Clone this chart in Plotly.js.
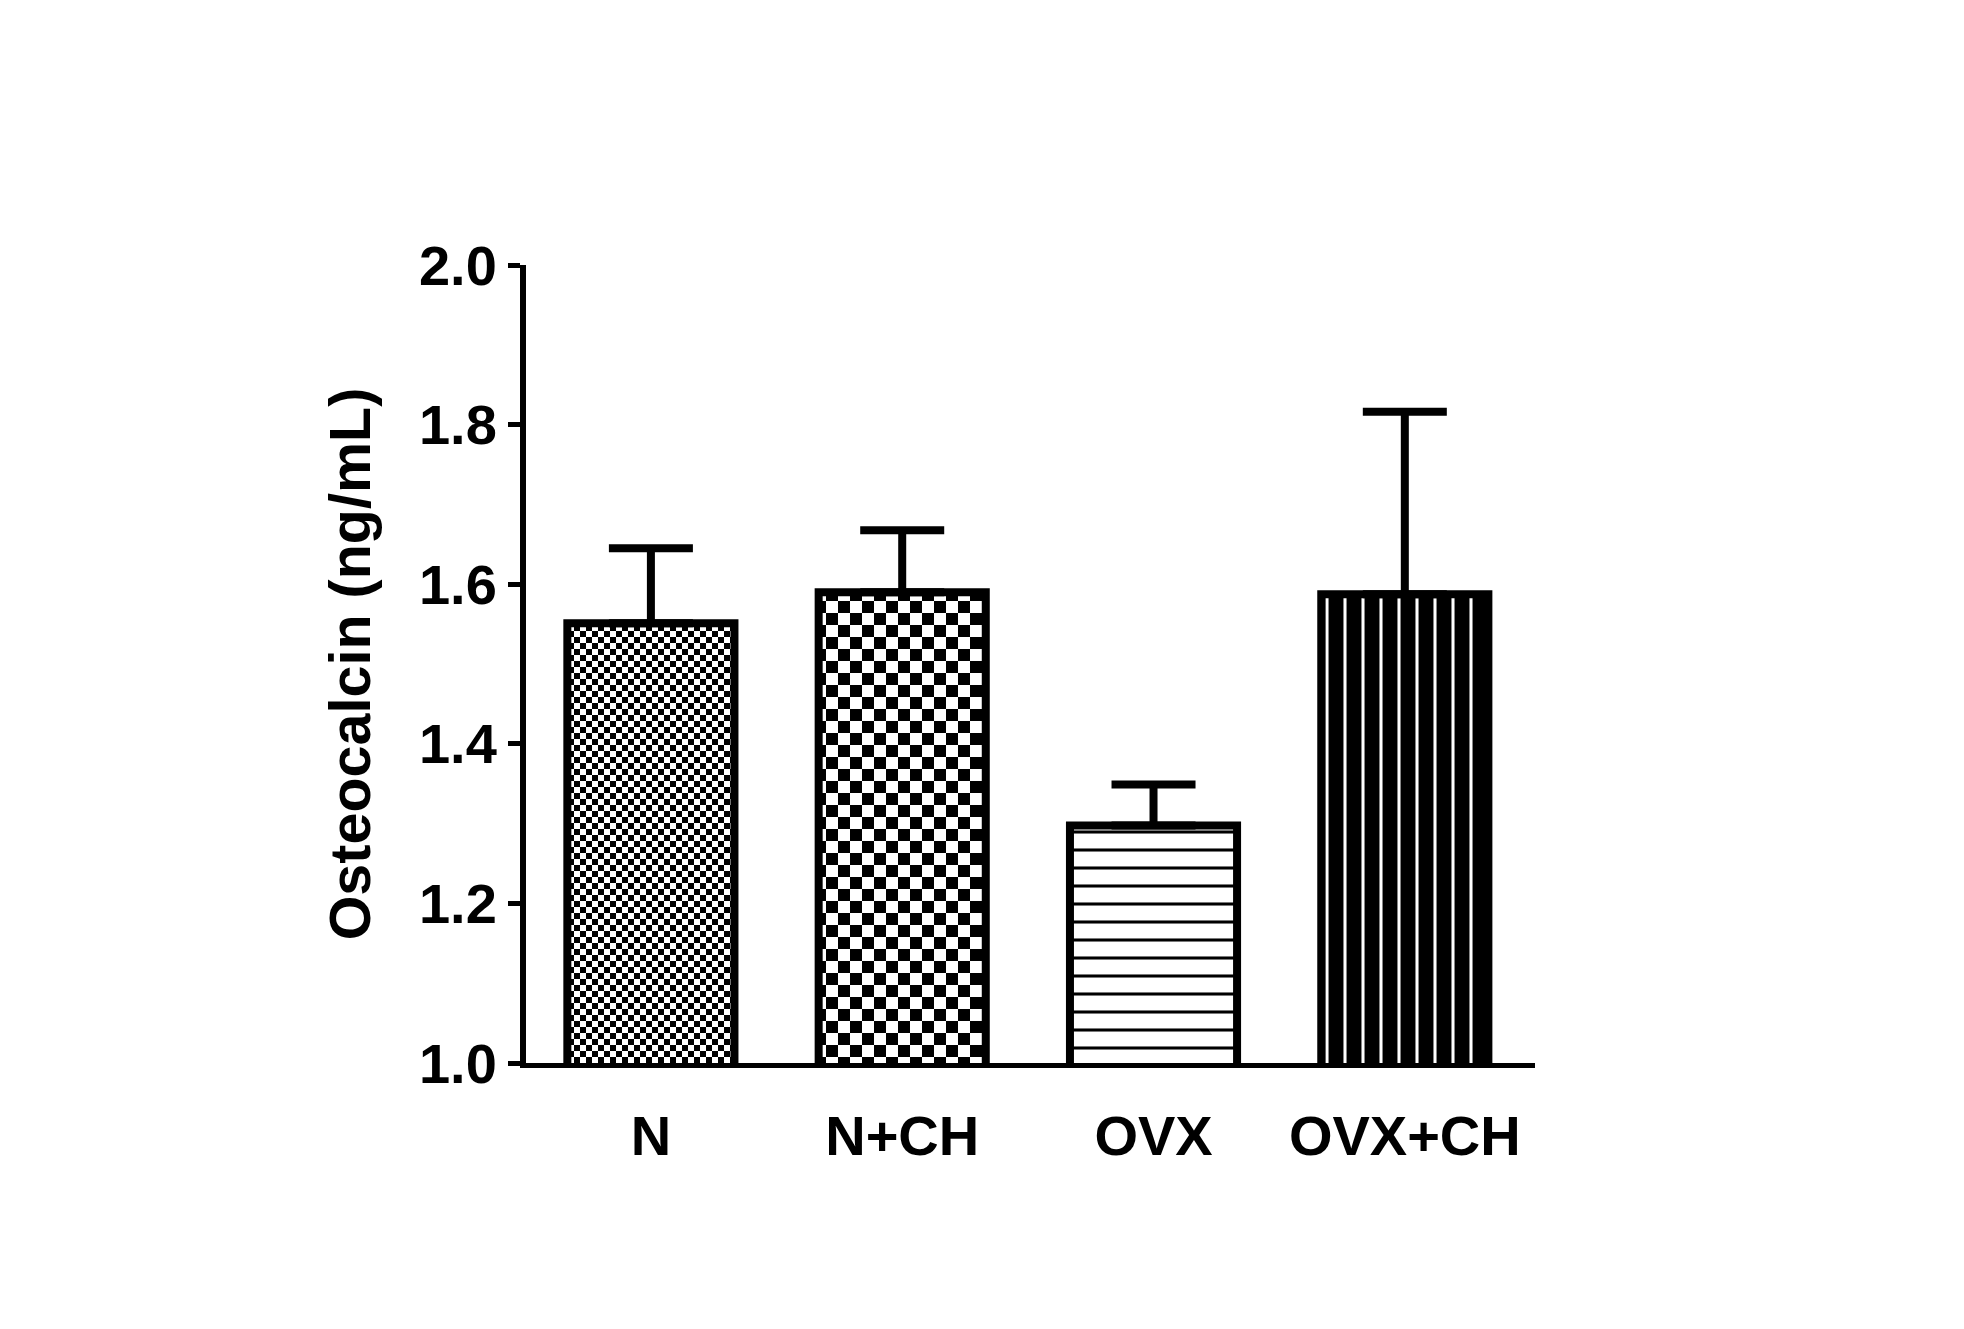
<!DOCTYPE html>
<html>
<head>
<meta charset="utf-8">
<script src="https://cdn.plot.ly/plotly-3.0.1.min.js"></script>
<style>
  html, body { margin: 0; padding: 0; background: #fff; }
  #chart { width: 1964px; height: 1329px; }
</style>
</head>
<body>
<div id="chart"></div>
<script>
// ---- data ----
const groups = ['N', 'N+CH', 'OVX', 'OVX+CH'];
const means  = [1.551, 1.590, 1.2975, 1.5875];
const sems   = [0.094, 0.0775, 0.0515, 0.2285];
const yTickVals = [1.0, 1.2, 1.4, 1.6, 1.8, 2.0];
const yTitle = 'Osteocalcin (ng/mL)';

// ---- styling ----
const FONT = '"Liberation Sans", Arial, Helvetica, sans-serif';
const patternShapes   = ['.', '.', '-', '|'];
const patternSizes    = [12, 24, 18, 18];
const patternSolidity = [0.5, 0.5, 0.17, 0.17];
const patternFg       = ['#000', '#000', '#000', '#fff'];
const patternBg       = ['#fff', '#fff', '#fff', '#000'];

const trace = {
  type: 'bar',
  x: groups,
  y: means,
  width: 0.665,
  marker: {
    color: '#fff',
    line: { color: '#000', width: 8 },
    pattern: {
      shape: patternShapes,
      size: patternSizes,
      solidity: patternSolidity,
      fgcolor: patternFg,
      bgcolor: patternBg,
      fillmode: 'replace'
    }
  },
  error_y: {
    type: 'data',
    symmetric: false,
    array: sems,
    arrayminus: sems.map(() => 0),
    color: '#000',
    thickness: 8,
    width: 42
  },
  hoverinfo: 'none'
};

const layout = {
  width: 1964,
  height: 1329,
  paper_bgcolor: '#fff',
  plot_bgcolor: '#fff',
  showlegend: false,
  margin: { l: 526, r: 429, t: 264.5, b: 266 },
  font: { family: FONT, size: 56, color: '#000', weight: 'bold' },
  xaxis: {
    type: 'category',
    range: [-0.497, 3.518],
    showline: true,
    linecolor: '#000',
    linewidth: 5,
    ticks: '',
    showgrid: false,
    zeroline: false,
    tickfont: { family: FONT, size: 56, color: '#000', weight: 'bold' },
    ticklabelstandoff: 20,
    fixedrange: true
  },
  yaxis: {
    range: [1, 2],
    tickvals: yTickVals,
    tickformat: '.1f',
    showline: true,
    linecolor: '#000',
    linewidth: 6,
    ticks: 'outside',
    ticklen: 12,
    tickwidth: 5,
    tickcolor: '#000',
    showgrid: false,
    zeroline: false,
    tickfont: { family: FONT, size: 56, color: '#000', weight: 'bold' },
    title: {
      text: yTitle,
      font: { family: FONT, size: 57.5, color: '#000', weight: 'bold' },
      standoff: 32
    },
    fixedrange: true
  }
};

Plotly.newPlot('chart', [trace], layout, { staticPlot: true, displayModeBar: false }).then(function (gd) {
  // turn the dot pattern tiles into checkerboard tiles (GraphPad-style fill)
  const NS = 'http://www.w3.org/2000/svg';
  gd.querySelectorAll('pattern').forEach(function (p) {
    const c = p.querySelector('circle');
    if (!c) return;
    const w = parseFloat(p.getAttribute('width'));
    const h = parseFloat(p.getAttribute('height'));
    c.parentNode.removeChild(c);
    [[0, 0], [w / 2, h / 2]].forEach(function (o) {
      const r = document.createElementNS(NS, 'rect');
      r.setAttribute('x', o[0]);
      r.setAttribute('y', o[1]);
      r.setAttribute('width', w / 2);
      r.setAttribute('height', h / 2);
      r.setAttribute('fill', '#000');
      p.appendChild(r);
    });
  });
});
</script>
</body>
</html>
